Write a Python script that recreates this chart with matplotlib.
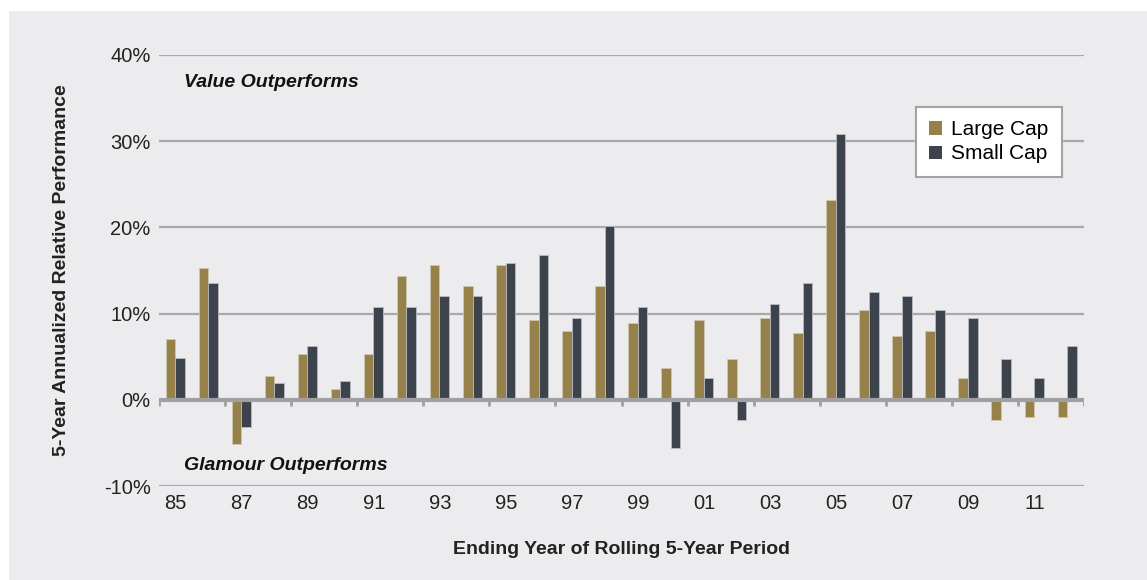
import numpy as np
import matplotlib
matplotlib.use("Agg")
import matplotlib.pyplot as plt
from matplotlib.patches import Rectangle

plt.rcParams['font.family'] = ['Liberation Sans', 'DejaVu Sans']

# ending year of each rolling 5-year window, 1985..2012
years = ["85", "86", "87", "88", "89", "90", "91", "92", "93", "94",
         "95", "96", "97", "98", "99", "00", "01", "02", "03", "04",
         "05", "06", "07", "08", "09", "10", "11", "12"]
large_cap = [7.1, 15.3, -5.1, 2.8, 5.3, 1.3, 5.3, 14.4, 15.6, 13.2,
             15.6, 9.2, 8.0, 13.2, 8.9, 3.7, 9.2, 4.7, 9.5, 7.7,
             23.2, 10.4, 7.4, 8.0, 2.5, -2.3, -2.0, -2.0]
small_cap = [4.9, 13.5, -3.2, 1.9, 6.2, 2.2, 10.8, 10.8, 12.0, 12.0,
             15.9, 16.8, 9.5, 20.2, 10.8, -5.6, 2.5, -2.3, 11.1, 13.5,
             30.8, 12.5, 12.0, 10.4, 9.5, 4.7, 2.5, 6.2]
y_ticks = [-10, 0, 10, 20, 30, 40]

gold = "#97814a"
slate = "#3d434d"
panel = "#ececee"
grid = "#a9a9ab"

fig = plt.figure(figsize=(11.47, 5.8), dpi=100)
fig.patch.set_facecolor("white")
# grey panel behind everything, white strip at the top/left
fig.patches.append(Rectangle((9 / 1147, 0), 1 - 9 / 1147, 1 - 11 / 580,
                             transform=fig.transFigure, facecolor=panel,
                             edgecolor="none", zorder=-10))

ax = fig.add_axes([159 / 1147, 1 - 486 / 580, (1084 - 159) / 1147, (486 - 55) / 580])
ax.set_facecolor("none")
ax.set_zorder(2)

x = np.arange(len(years))
w = 0.29
ax.bar(x - w / 2 - 0.01, large_cap, w, color=gold, edgecolor="#cfc6ae", linewidth=0.6,
       label="Large Cap", zorder=3)
ax.bar(x + w / 2 - 0.01, small_cap, w, color=slate, edgecolor="#b9bcc2", linewidth=0.6,
       label="Small Cap", zorder=3)

ax.set_xlim(-0.5, len(years) - 0.5)
ax.set_ylim(-10, 40)

for v in y_ticks:
    if v != 0:
        ax.axhline(v, color=grid, lw=1.6, zorder=1)
ax.axhline(0, color="#a0a0a2", lw=3, zorder=4)
# small tick marks hanging from the zero line, every second year boundary
bounds = np.arange(-0.5, len(years), 2)
ax.vlines(bounds, -0.7, 0, color="#a0a0a2", lw=2, zorder=4)

for s in ax.spines.values():
    s.set_visible(False)

ax.set_yticks(y_ticks)
ax.set_yticklabels([f"{v}%" for v in y_ticks])
ax.set_xticks(x[::2])
ax.set_xticklabels(years[::2])
ax.tick_params(axis="both", length=0, labelsize=14.5, labelcolor="#222222")
ax.tick_params(axis="x", pad=6)
ax.tick_params(axis="y", pad=6)

ax.set_xlabel("Ending Year of Rolling 5-Year Period", fontsize=14, fontweight="bold",
              color="#222222", labelpad=20)
ax.set_ylabel("5-Year Annualized Relative Performance", fontsize=14, fontweight="bold",
              color="#222222", labelpad=24)

ax.text(0.25, 36.8, "Value Outperforms", fontsize=14, fontweight="bold", style="italic",
        color="#111111", va="center", ha="left")
ax.text(0.25, -7.6, "Glamour Outperforms", fontsize=14, fontweight="bold", style="italic",
        color="#111111", va="center", ha="left")

leg = ax.legend(loc="upper right", bbox_to_anchor=(0.976, 0.88), fontsize=15,
                frameon=True, fancybox=False, handlelength=0.6, handleheight=0.6,
                handletextpad=0.45, borderpad=0.65, labelspacing=0.25, borderaxespad=0)
leg.get_frame().set_edgecolor("#a3a3a5")
leg.get_frame().set_linewidth(1.5)
leg.get_frame().set_facecolor("white")
leg.get_frame().set_alpha(1)
for h in leg.legend_handles:
    h.set_edgecolor("none")

fig.savefig("out.png", dpi=100, facecolor=fig.get_facecolor())
